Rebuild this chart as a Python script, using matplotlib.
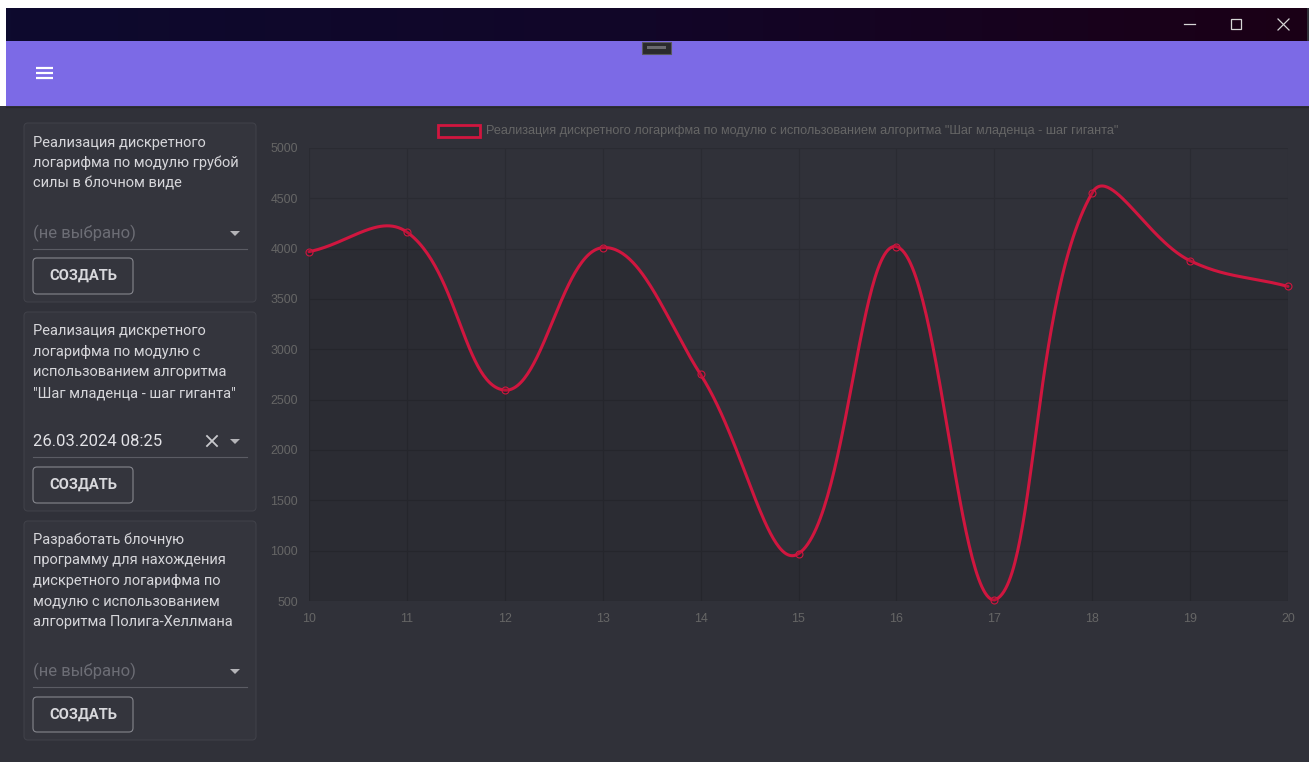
import numpy as np
import matplotlib
matplotlib.use('Agg')
import matplotlib.pyplot as plt
from matplotlib.patches import Rectangle, FancyBboxPatch, Polygon
from matplotlib.colors import LinearSegmentedColormap

# ---------------- data ----------------
x_values = [10, 11, 12, 13, 14, 15, 16, 17, 18, 19, 20]
y_values = [3970, 4165, 2595, 4010, 2750, 970, 4020, 510, 4555, 3880, 3625]
y_ticks = [500, 1000, 1500, 2000, 2500, 3000, 3500, 4000, 4500, 5000]
series_label = 'Реализация дискретного логарифма по модулю с использованием алгоритма "Шаг младенца - шаг гиганта"'

card_titles = [
    ["Реализация дискретного", "логарифма по модулю грубой", "силы в блочном виде"],
    ["Реализация дискретного", "логарифма по модулю с", "использованием алгоритма", '"Шаг младенца - шаг гиганта"'],
    ["Разработать блочную", "программу для нахождения", "дискретного логарифма по",
     "модулю с использованием", "алгоритма Полига-Хеллмана"],
]
card_values = ["(не выбрано)", "26.03.2024 08:25", "(не выбрано)"]
button_label = "СОЗДАТЬ"

# ---------------- style ----------------
W, H = 1309, 762
BODY = '#303139'
CARD = '#34353d'
CARD_EDGE = '#404149'
LINE = '#d0163f'
TICK = '#666666'
GRID = '#2a2b32'
UI_FONT = ['Roboto', 'DejaVu Sans']
CH_FONT = ['Liberation Sans', 'DejaVu Sans']

fig = plt.figure(figsize=(W / 100, H / 100), dpi=100)
fig.patch.set_facecolor(BODY)

bg = fig.add_axes([0, 0, 1, 1], zorder=0)
bg.set_xlim(0, W)
bg.set_ylim(H, 0)
bg.axis('off')

# white margins around window
bg.add_patch(Rectangle((0, 0), W, 8, fc='white', ec='none'))
bg.add_patch(Rectangle((0, 0), 6, 106, fc='white', ec='none'))

# title bar gradient
cmap = LinearSegmentedColormap.from_list('tb', ['#0d0a2e', '#120628', '#1b0016'])
grad = np.linspace(0, 1, 256).reshape(1, -1)
bg.imshow(grad, cmap=cmap, extent=(6, W - 2, 41, 8), aspect='auto', zorder=1)

# window controls
wc = '#d6d6d6'
bg.plot([1184, 1195], [24, 24], color=wc, lw=0.9, zorder=3)
bg.add_patch(Rectangle((1231, 19), 10, 10, fc='none', ec=wc, lw=0.9, zorder=3))
bg.plot([1278, 1289], [19, 30], color=wc, lw=0.9, zorder=3)
bg.plot([1278, 1289], [30, 19], color=wc, lw=0.9, zorder=3)

# app bar
bg.add_patch(Rectangle((6, 41), W - 6, 65, fc='#7c6ae6', ec='none', zorder=1))
bg.plot([6, W], [106.5, 106.5], color='#26272d', lw=1.0, zorder=2)
for yy in (68, 73, 78):
    bg.plot([36, 53], [yy, yy], color='white', lw=1.6, solid_capstyle='butt', zorder=3)
# drag handle
bg.add_patch(Rectangle((642, 42), 29, 12, fc='#2a2a2c', ec='#58585c', lw=0.8, zorder=3))
bg.add_patch(Rectangle((647, 46), 19, 3, fc='#6a6a6e', ec='none', zorder=4))

# ---------------- cards ----------------
cards = [
    dict(top=123, bottom=302, lines=[143, 163, 183], val=233, under=249, btn=(258, 294)),
    dict(top=312, bottom=511, lines=[331, 352, 372, 393], val=441, under=457, btn=(467, 503)),
    dict(top=521, bottom=740, lines=[540, 560, 581, 602, 622], val=671, under=687, btn=(697, 732)),
]
for i, c in enumerate(cards):
    bg.add_patch(FancyBboxPatch((24, c['top']), 232, c['bottom'] - c['top'],
                                boxstyle='round,pad=0,rounding_size=4',
                                fc=CARD, ec=CARD_EDGE, lw=0.8, zorder=1))
    for txt, yy in zip(card_titles[i], c['lines']):
        bg.text(33, yy, txt, fontsize=10.5, color='#d6d6da', family=UI_FONT,
                va='center', ha='left', zorder=3)
    is_value = card_values[i] != "(не выбрано)"
    bg.text(33, c['val'], card_values[i], fontsize=12.0,
            color='#e2e2e6' if is_value else '#6c6d75', family=UI_FONT,
            va='center', ha='left', zorder=3)
    # dropdown arrow
    bg.add_patch(Polygon([[230, c['val'] - 2], [240, c['val'] - 2], [235, c['val'] + 3]],
                         closed=True, fc='#b4b4b8', ec='none', zorder=3))
    if is_value:
        xm, ym = 212, c['val']
        bg.plot([xm - 5, xm + 5], [ym - 5, ym + 5], color='#c8c8cc', lw=1.3, zorder=3)
        bg.plot([xm - 5, xm + 5], [ym + 5, ym - 5], color='#c8c8cc', lw=1.3, zorder=3)
    bg.plot([33, 247], [c['under'], c['under']], color='#5b5c64', lw=0.8, zorder=3)
    b0, b1 = c['btn']
    bg.add_patch(FancyBboxPatch((33, b0), 100, b1 - b0,
                                boxstyle='round,pad=0,rounding_size=4',
                                fc='none', ec='#85868d', lw=0.8, zorder=3))
    bg.text(83, (b0 + b1) / 2, button_label, fontsize=10.6, color='#d8d8dc',
            family=UI_FONT, weight='bold', va='center', ha='center', zorder=3)

# ---------------- chart legend ----------------
bg.add_patch(Rectangle((438, 124.5), 42, 12.5, fc=(0, 0, 0, 0.1), ec=LINE, lw=2.0, zorder=3))
bg.text(486, 131, series_label, fontsize=9.1, color=TICK, family=CH_FONT,
        va='center', ha='left', zorder=3)

# ---------------- chart ----------------
L, R, T, B = 309, 1288, 148, 601
ax = fig.add_axes([L / W, 1 - B / H, (R - L) / W, (B - T) / H], zorder=2)
ax.set_facecolor('none')
ax.set_xlim(10, 20)
ax.set_ylim(500, 5000)
ax.set_xticks(x_values)
ax.set_yticks(y_ticks)
ax.set_xticklabels([str(v) for v in x_values])
ax.set_yticklabels([str(v) for v in y_ticks])
for s in ax.spines.values():
    s.set_visible(False)
ax.grid(True, color=GRID, lw=0.8)
ax.set_axisbelow(True)
ax.tick_params(axis='both', length=0, colors=TICK, labelsize=8.9)
ax.tick_params(axis='y', pad=8)
ax.tick_params(axis='x', pad=9)
for lab in ax.get_xticklabels() + ax.get_yticklabels():
    lab.set_family(CH_FONT)

# Chart.js-style bezier (tension 0.4, control points capped to chart area)
tension = 0.4
pts = ax.transData.transform(np.column_stack([x_values, y_values]).astype(float))
x0b, y0b, x1b, y1b = ax.bbox.extents
n = len(pts)
cp_prev = np.zeros_like(pts)
cp_next = np.zeros_like(pts)
for i in range(n):
    prev = pts[max(i - 1, 0)]
    cur = pts[i]
    nxt = pts[min(i + 1, n - 1)]
    d01 = np.hypot(*(cur - prev))
    d12 = np.hypot(*(nxt - cur))
    tot = d01 + d12
    s01 = d01 / tot if tot else 0.0
    s12 = d12 / tot if tot else 0.0
    fa, fb = tension * s01, tension * s12
    cp_prev[i] = cur - fa * (nxt - prev)
    cp_next[i] = cur + fb * (nxt - prev)
for arr in (cp_prev, cp_next):
    arr[:, 0] = np.clip(arr[:, 0], x0b, x1b)
    arr[:, 1] = np.clip(arr[:, 1], y0b, y1b)

tt = np.linspace(0, 1, 60)[:, None]
curve = []
for i in range(n - 1):
    P0, P1, P2, P3 = pts[i], cp_next[i], cp_prev[i + 1], pts[i + 1]
    seg = ((1 - tt) ** 3) * P0 + 3 * ((1 - tt) ** 2) * tt * P1 + 3 * (1 - tt) * tt ** 2 * P2 + tt ** 3 * P3
    curve.append(seg if i == 0 else seg[1:])
curve = np.vstack(curve)
curve_data = ax.transData.inverted().transform(curve)

fill_poly = np.vstack([curve_data, [[x_values[-1], 500], [x_values[0], 500]]])
ax.add_patch(Polygon(fill_poly, closed=True, fc=(0, 0, 0, 0.1), ec='none', zorder=2))
ax.plot(curve_data[:, 0], curve_data[:, 1], color=LINE, lw=2.2,
        solid_capstyle='round', solid_joinstyle='round', zorder=3, clip_on=False)
ax.plot(x_values, y_values, linestyle='none', marker='o', ms=5.0,
        mfc=(0, 0, 0, 0.1), mec=LINE, mew=0.8, zorder=4, clip_on=False)

fig.savefig('out.png', dpi=100, facecolor=fig.get_facecolor())
